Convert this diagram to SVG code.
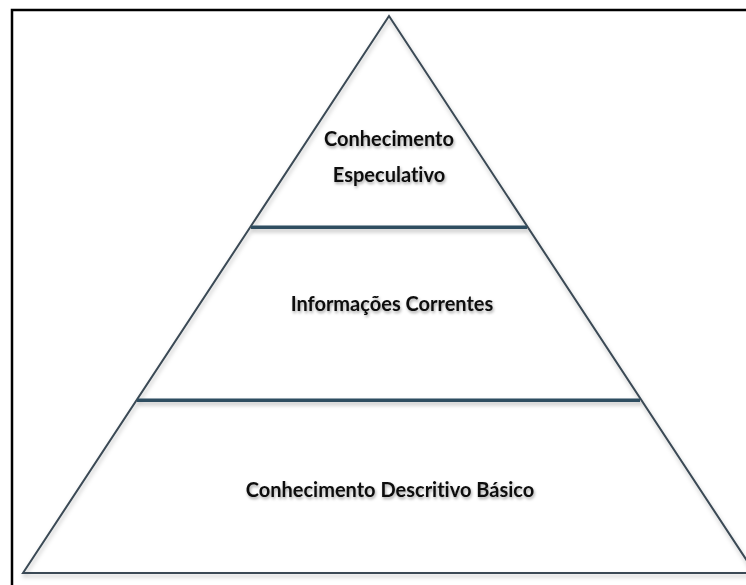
<svg xmlns="http://www.w3.org/2000/svg" width="746" height="585" viewBox="0 0 746 585">
<defs>
<filter id="sh" filterUnits="userSpaceOnUse" x="0" y="0" width="746" height="585">
<feDropShadow dx="1" dy="3" stdDeviation="2" flood-color="#000" flood-opacity="0.25"/>
</filter>
<filter id="tsh" x="-10%" y="-40%" width="120%" height="200%">
<feDropShadow dx="1" dy="2" stdDeviation="1.5" flood-color="#000" flood-opacity="0.35"/>
</filter>
</defs>
<style>
.side{stroke:#3b4a55;stroke-width:2;fill:none}
.div{fill:#2e4d60}
.lbl{font-family:Lato,"Liberation Sans",sans-serif;font-weight:bold;font-size:20px;fill:#111;text-anchor:middle;font-variant-ligatures:none}
</style>
<rect width="746" height="585" fill="#fff"/>
<path d="M12 600 V10 H760" fill="none" stroke="#000" stroke-width="2.5"/>
<g id="connectors" filter="url(#sh)">
<path class="side" d="M23 573 L389 16 L755 573 Z"/>
<rect class="div" x="251" y="225.5" width="276" height="3.5"/>
<rect class="div" x="137" y="398.5" width="503" height="3.5"/>
</g>
<g id="top">
<text class="lbl" x="389" y="146" filter="url(#tsh)">Conhecimento</text>
<text class="lbl" x="389" y="182" filter="url(#tsh)">Especulativo</text>
</g>
<g id="middle">
<text class="lbl" x="392" y="311" filter="url(#tsh)">Informações Correntes</text>
</g>
<g id="bottom">
<text class="lbl" x="390" y="497" filter="url(#tsh)">Conhecimento Descritivo Básico</text>
</g>
</svg>
